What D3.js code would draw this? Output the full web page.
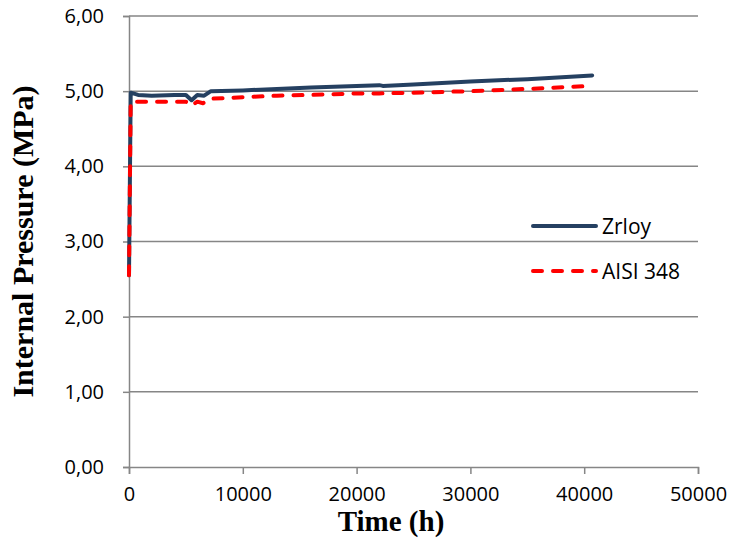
<!DOCTYPE html>
<html>
<head>
<meta charset="utf-8">
<script src="https://cdn.jsdelivr.net/npm/d3@7"></script>
<style>
  body { margin: 0; background: #fff; }
</style>
</head>
<body>
<div id="chart"></div>
<script>
// Zrloy series (time in h, pressure in MPa)
var zrloyTime = [0, 150, 800, 2000, 4000, 5000, 5500, 6000, 6600, 7200, 10000, 13000, 16000, 20000, 22000, 22300, 25000, 30000, 35000, 40700];
var zrloyPressure = [2.55, 4.98, 4.95, 4.94, 4.95, 4.95, 4.88, 4.95, 4.94, 5.00, 5.01, 5.03, 5.05, 5.07, 5.08, 5.07, 5.09, 5.13, 5.16, 5.21];

// AISI 348 series
var aisiTime = [0, 150, 800, 2000, 4000, 5000, 5500, 6000, 6500, 7300, 10000, 13000, 16000, 20000, 22000, 25000, 30000, 35000, 40700];
var aisiPressure = [2.55, 4.86, 4.86, 4.86, 4.86, 4.86, 4.81, 4.86, 4.84, 4.90, 4.92, 4.94, 4.95, 4.97, 4.97, 4.98, 5.00, 5.03, 5.07];

var xTicks = [0, 10000, 20000, 30000, 40000, 50000];
var yTicks = [0, 1, 2, 3, 4, 5, 6];

var seriesNames = ["Zrloy", "AISI 348"];
var seriesColors = ["#254061", "#ff0000"];

var width = 729;
var height = 542;
var margin = {left: 129, right: 31, top: 16, bottom: 75};

var svg = d3.select("#chart").append("svg")
    .attr("width", width)
    .attr("height", height);

var x = d3.scaleLinear().domain([0, 50000]).range([margin.left, width - margin.right]);
var y = d3.scaleLinear().domain([0, 6]).range([height - margin.bottom, margin.top]);

// gridlines
svg.append("g").selectAll("line")
    .data(yTicks.slice(1))
    .enter().append("line")
    .attr("x1", x(0))
    .attr("x2", x(50000))
    .attr("y1", function(d) { return y(d); })
    .attr("y2", function(d) { return y(d); })
    .attr("stroke", "#868686")
    .attr("stroke-width", 1.5);

// axes
var fmt = function(d) { return d3.format(".2f")(d).replace(".", ","); };

var yAxis = svg.append("g")
    .attr("transform", "translate(" + x(0) + ",0)")
    .call(d3.axisLeft(y).tickValues(yTicks).tickFormat(fmt).tickSize(6).tickPadding(19));

var xAxis = svg.append("g")
    .attr("transform", "translate(0," + y(0) + ")")
    .call(d3.axisBottom(x).tickValues(xTicks).tickFormat(d3.format("d")).tickSize(7).tickPadding(13));

[xAxis, yAxis].forEach(function(a) {
    a.select(".domain").attr("stroke", "#868686").attr("stroke-width", 1.5);
    a.selectAll(".tick line").attr("stroke", "#868686").attr("stroke-width", 1.5);
    a.selectAll("text")
        .attr("fill", "#000")
        .style("font-family", "'Open Sans', 'Liberation Sans', sans-serif")
        .style("font-size", "20px");
});

// lines
var zrloyData = zrloyTime.map(function(t, i) { return [t, zrloyPressure[i]]; });
var aisiData = aisiTime.map(function(t, i) { return [t, aisiPressure[i]]; });

var line = d3.line()
    .x(function(d) { return x(d[0]); })
    .y(function(d) { return y(d[1]); });

svg.append("path")
    .datum(zrloyData)
    .attr("d", line)
    .attr("fill", "none")
    .attr("stroke", seriesColors[0])
    .attr("stroke-width", 4)
    .attr("stroke-linejoin", "round")
    .attr("stroke-linecap", "round");

svg.append("path")
    .datum(aisiData)
    .attr("d", line)
    .attr("fill", "none")
    .attr("stroke", seriesColors[1])
    .attr("stroke-width", 4)
    .attr("stroke-dasharray", "9,11")
    .attr("stroke-linejoin", "round")
    .attr("stroke-linecap", "round");

// legend
var legend = svg.append("g");
seriesNames.forEach(function(name, i) {
    var ly = 226 + i * 45;
    legend.append("line")
        .attr("x1", 533)
        .attr("x2", 596)
        .attr("y1", ly)
        .attr("y2", ly)
        .attr("stroke", seriesColors[i])
        .attr("stroke-width", 4)
        .attr("stroke-linecap", "round")
        .attr("stroke-dasharray", i === 1 ? "9,11" : null);
    legend.append("text")
        .attr("x", 602)
        .attr("y", ly + 8)
        .text(name)
        .style("font-family", "'Open Sans', 'Liberation Sans', sans-serif")
        .style("font-size", "21px");
});

// axis titles
svg.append("text")
    .attr("x", 391)
    .attr("y", 531)
    .attr("text-anchor", "middle")
    .text("Time (h)")
    .style("font-family", "'Liberation Serif', 'Times New Roman', serif")
    .style("font-weight", "bold")
    .style("font-size", "29px");

svg.append("text")
    .attr("transform", "translate(33," + (y(3)) + ") rotate(-90)")
    .attr("text-anchor", "middle")
    .text("Internal Pressure (MPa)")
    .style("font-family", "'Liberation Serif', 'Times New Roman', serif")
    .style("font-weight", "bold")
    .style("font-size", "30px");
</script>
</body>
</html>
